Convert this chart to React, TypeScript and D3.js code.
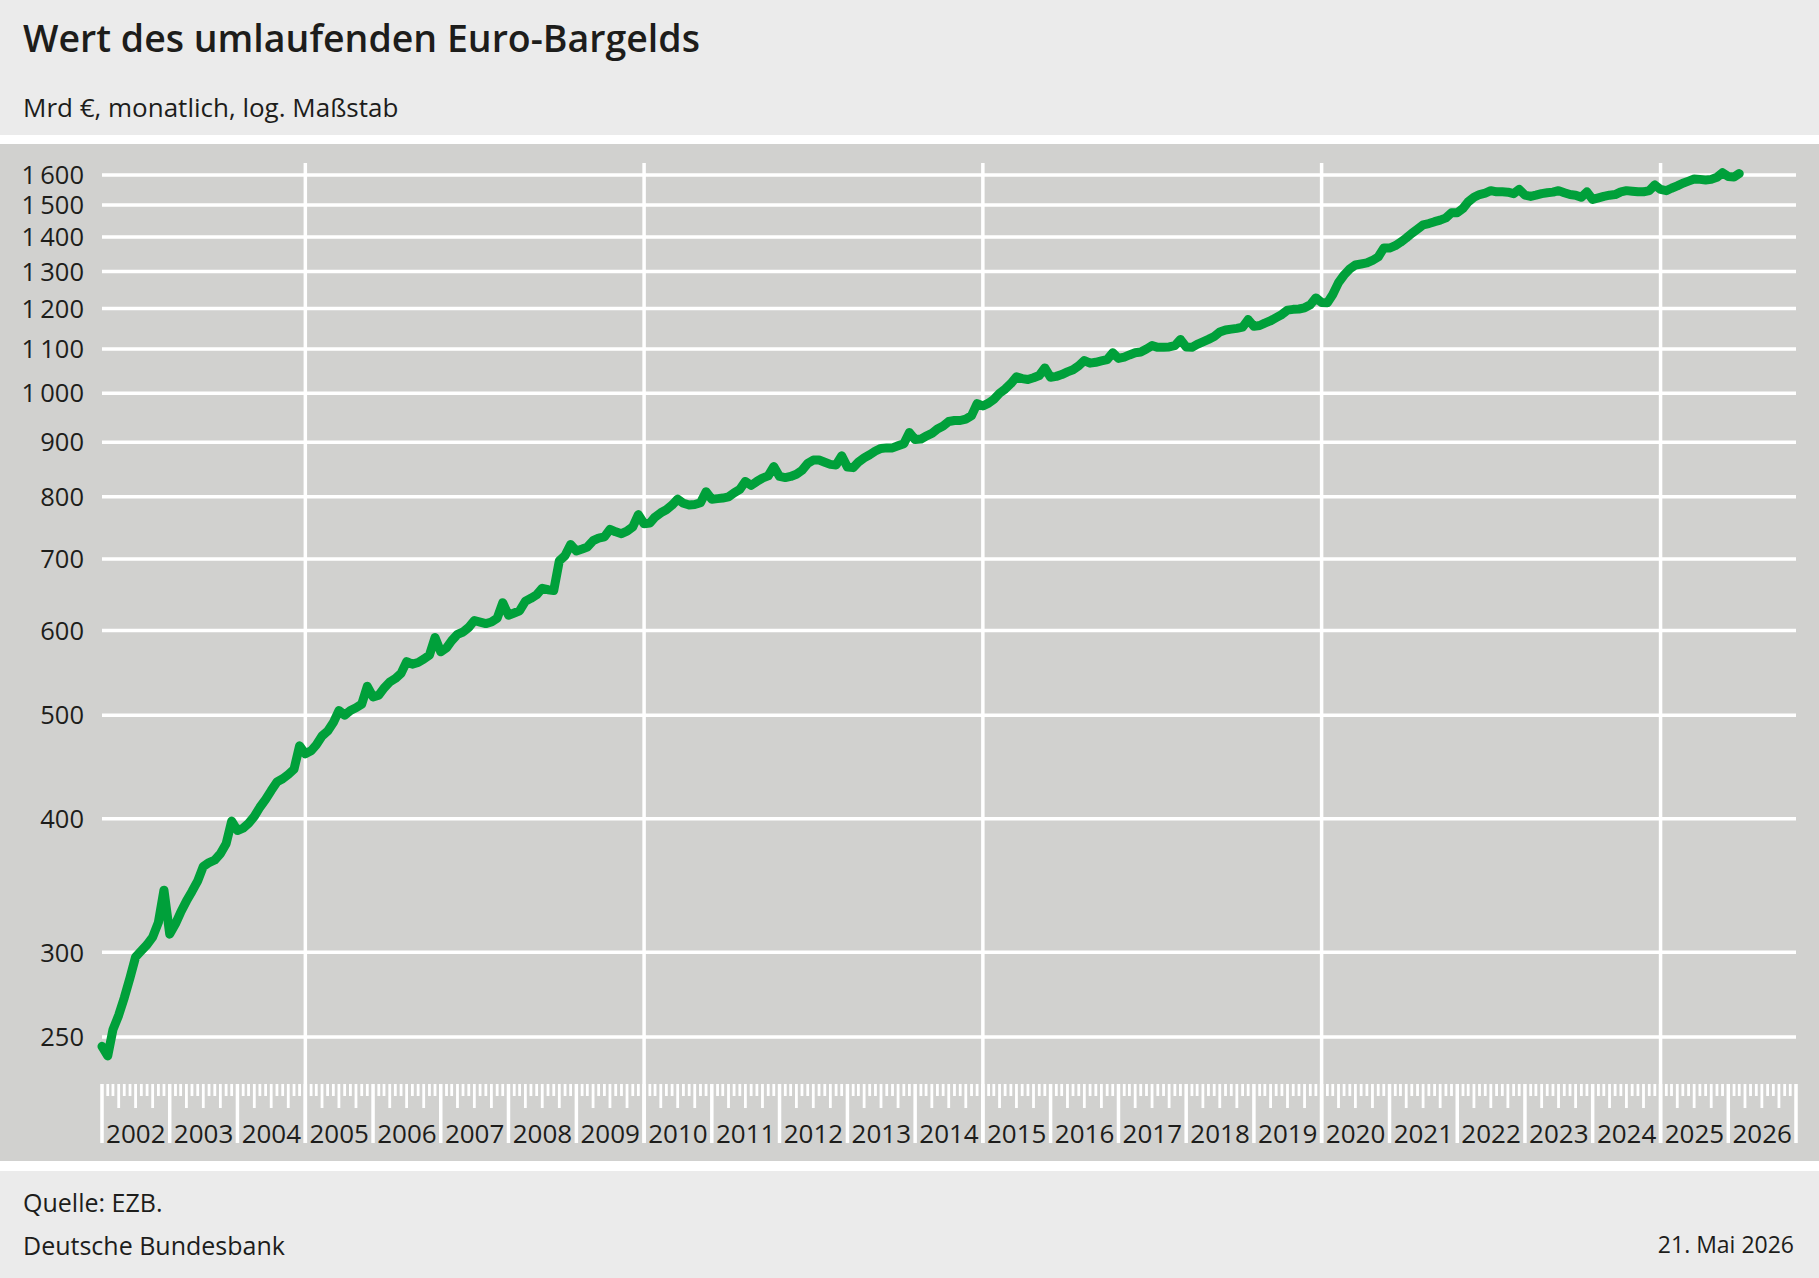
import { useEffect } from 'react';
import * as d3 from 'd3';

// Euro-Bargeldumlauf, Mrd €, Monatsende, ab Januar 2002
const startMonth = new Date(2002, 0, 1);

const cashValues = [
  // 2002
  245, 240, 254, 262, 272, 284, 297, 301, 305, 310, 320, 343,
  // 2003
  312, 319, 327, 335, 342, 350, 361, 364, 366, 371, 379, 398,
  // 2004
  390, 392, 396, 402, 410, 417, 425, 433, 436, 440, 445, 468,
  // 2005
  460, 463, 469, 478, 483, 492, 505, 500, 505, 508, 512, 532,
  // 2006
  520, 522, 530, 537, 541, 547, 561, 558, 560, 564, 569, 591,
  // 2007
  573, 578, 587, 595, 598, 604, 613, 611, 609, 611, 616, 637,
  // 2008
  620, 623, 626, 639, 643, 648, 657, 655, 654, 697, 705, 722,
  // 2009
  712, 715, 718, 728, 732, 734, 746, 742, 739, 743, 750, 770,
  // 2010
  755, 756, 766, 773, 778, 786, 796, 789, 786, 787, 790, 809,
  // 2011
  796, 797, 798, 800, 807, 813, 827, 820, 827, 833, 837, 854,
  // 2012
  836, 834, 836, 840, 847, 860, 866, 866, 862, 858, 857, 874,
  // 2013
  853, 852, 862, 870, 876, 883, 888, 889, 889, 893, 897, 919,
  // 2014
  905, 906, 912, 917, 926, 932, 941, 943, 943, 946, 953, 978,
  // 2015
  973, 979, 987, 1000, 1009, 1021, 1036, 1032, 1030, 1034, 1039, 1056,
  // 2016
  1035, 1037, 1041, 1047, 1052, 1061, 1073, 1067, 1069, 1072, 1075, 1091,
  // 2017
  1078, 1081, 1086, 1091, 1093, 1100, 1108, 1104, 1104, 1105, 1108, 1123,
  // 2018
  1105, 1104, 1111, 1117, 1123, 1130, 1141, 1146, 1148, 1150, 1153, 1172,
  // 2019
  1155, 1157, 1163, 1169, 1177, 1185, 1196, 1198, 1199, 1202, 1210, 1228,
  // 2020
  1216, 1215, 1237, 1269, 1290, 1307, 1318, 1321, 1324, 1331, 1341, 1367,
  // 2021
  1367, 1374, 1384, 1397, 1411, 1424, 1437, 1441, 1447, 1452, 1459, 1475,
  // 2022
  1475, 1489, 1510, 1525, 1534, 1539, 1547, 1543, 1543, 1542, 1537, 1551,
  // 2023
  1532, 1528, 1532, 1537, 1540, 1542, 1547, 1540, 1534, 1532, 1525, 1543,
  // 2024
  1518, 1523, 1528, 1532, 1534, 1543, 1547, 1545, 1543, 1543, 1547, 1566,
  // 2025
  1551, 1547, 1555, 1563, 1572, 1579, 1586, 1585, 1583, 1585, 1592, 1608,
  // 2026
  1595, 1593, 1605,
];

const yTicks = [250, 300, 400, 500, 600, 700, 800, 900, 1000, 1100, 1200, 1300, 1400, 1500, 1600];

const yearLabels = [
  2002, 2003, 2004, 2005, 2006, 2007, 2008, 2009, 2010, 2011, 2012, 2013,
  2014, 2015, 2016, 2017, 2018, 2019, 2020, 2021, 2022, 2023, 2024, 2025, 2026,
];

const gridYears = [2005, 2010, 2015, 2020, 2025];

const W = 1819;
const H = 1278;
const FONT = '"Open Sans", "Noto Sans", sans-serif';
const TEXT = '#1d1d1b';
const GREEN = '#00a03a';
const PLOT_BG = '#d1d1cf';
const HEAD_BG = '#ebebeb';

const fmtY = (v: number) =>
  v >= 1000 ? `${Math.floor(v / 1000)}\u2009${String(v % 1000).padStart(3, '0')}` : String(v);

export default function App() {
  useEffect(() => {
    document.body.style.margin = '0';
  }, []);

  const x = d3
    .scaleTime()
    .domain([new Date(2002, 0, 1), new Date(2027, 0, 1)])
    .range([102, 1796]);
  const y = d3.scaleLog().domain([250, 1600]).range([1037, 175]);

  const line = d3
    .line<number>()
    .x((_, i) => x(d3.timeMonth.offset(startMonth, i)))
    .y((d) => y(d));

  const months = d3.timeMonth.range(new Date(2002, 0, 1), new Date(2027, 0, 2));
  const tickTop = 1084;

  return (
    <svg width={W} height={H} style={{ display: 'block' }} fontFamily={FONT}>
      <rect x={0} y={0} width={W} height={H} fill="#ffffff" />
      <rect x={0} y={0} width={W} height={135} fill={HEAD_BG} />
      <rect x={0} y={144} width={W} height={1017} fill={PLOT_BG} />
      <rect x={0} y={1171} width={W} height={H - 1171} fill={HEAD_BG} />

      <text x={23} y={52} fontSize={37.5} fill={TEXT} fontWeight={600}>
        Wert des umlaufenden Euro-Bargelds
      </text>
      <text x={23} y={117} fontSize={26} fill={TEXT}>
        Mrd €, monatlich, log. Maßstab
      </text>

      {/* horizontal grid */}
      {yTicks.map((t) => (
        <g key={t}>
          <line x1={102} x2={1796} y1={y(t)} y2={y(t)} stroke="#fff" strokeWidth={3.5} />
          <text x={84} y={y(t)} dy="0.36em" textAnchor="end" fontSize={25.5} fill={TEXT}>
            {fmtY(t)}
          </text>
        </g>
      ))}

      {/* vertical grid */}
      {gridYears.map((yr) => (
        <line
          key={yr}
          x1={x(new Date(yr, 0, 1))}
          x2={x(new Date(yr, 0, 1))}
          y1={163}
          y2={1143}
          stroke="#fff"
          strokeWidth={3.5}
        />
      ))}

      {/* month ticks */}
      {months.map((m) => {
        const mo = m.getMonth();
        const len = mo === 0 ? 59 : mo % 3 === 0 ? 24 : 12;
        return (
          <line
            key={m.getTime()}
            x1={x(m)}
            x2={x(m)}
            y1={tickTop}
            y2={tickTop + len}
            stroke="#fff"
            strokeWidth={mo === 0 ? 3.5 : 2.8}
          />
        );
      })}

      {yearLabels.map((yr) => (
        <text
          key={yr}
          x={(x(new Date(yr, 0, 1)) + x(new Date(yr + 1, 0, 1))) / 2}
          y={1143}
          textAnchor="middle"
          fontSize={26}
          fill={TEXT}
        >
          {yr}
        </text>
      ))}

      <path
        d={line(cashValues) ?? ''}
        fill="none"
        stroke={GREEN}
        strokeWidth={9}
        strokeLinejoin="round"
        strokeLinecap="round"
      />

      <text x={23} y={1212} fontSize={25} fill={TEXT}>
        Quelle: EZB.
      </text>
      <text x={23} y={1255} fontSize={25} fill={TEXT}>
        Deutsche Bundesbank
      </text>
      <text x={1794} y={1253} textAnchor="end" fontSize={23} fill={TEXT}>
        21. Mai 2026
      </text>
    </svg>
  );
}
